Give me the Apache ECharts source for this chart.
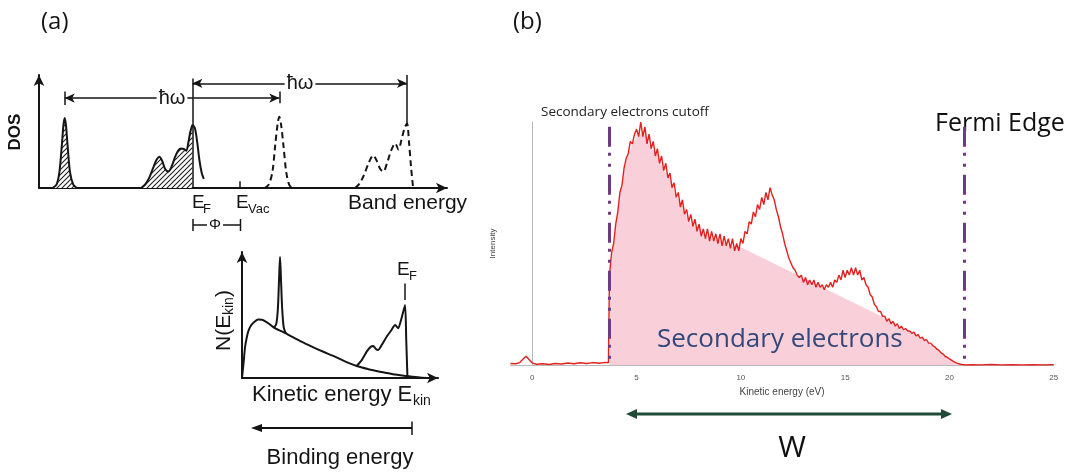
<!DOCTYPE html>
<html>
<head>
<meta charset="utf-8">
<script src="https://cdn.jsdelivr.net/npm/echarts@6/dist/echarts.min.js"></script>
<style>
  html, body { margin: 0; background: #fff; }
  #main { width: 1076px; height: 473px; }
</style>
</head>
<body>
<div id="main"></div>
<script>
// ---------- panel (a), top: DOS vs band energy (arbitrary units 0..100) ----------
const coreLevel = [[3.3,0],[4.3,3],[5.0,14],[5.6,38],[6.0,56],[6.3,62],[6.6,56],[7.0,38],[7.6,14],[8.4,3],[9.3,0]];
const valenceOccupied = [[25.0,0],[26.0,3],[27.0,9],[28.0,18],[28.8,25],[29.5,27.7],[30.2,24],[30.9,17],[31.7,14.5],
  [32.5,19],[33.4,28],[34.2,33.5],[34.8,35],[35.5,34.5],[36.1,33],[36.6,40],[37.1,50],[37.6,56]];
const valenceTail = [[37.6,56],[38.2,53],[38.8,40],[39.3,25],[39.9,13],[40.4,8]];
const coreExcited = [[55.3,0],[56.3,3],[57.2,14],[57.9,38],[58.5,57],[58.9,63],[59.3,57],[59.9,38],[60.6,14],[61.3,3],[62.0,0]];
const valenceExcited = [[77.5,0],[78.6,4],[79.7,12],[80.8,22],[81.9,29],[82.8,24],[83.6,17],[84.4,14.5],[85.3,22],
  [86.3,33],[87.3,39.5],[88.1,34],[88.8,42],[89.6,53],[90.2,57],[90.7,40],[91.2,18],[91.7,0]];
const E_F = 37.6, E_VAC = 49.3, E_TOP = 90.2, E_CORE = 6.3, E_CORE_X = 58.9;

// ---------- panel (a), bottom: N(E_kin) (arbitrary units 0..100) ----------
const secondaryBg = [[0,0],[0.8,12],[1.6,25],[2.4,32],[3.2,37],[4.5,41.5],[5.8,43.8],[7.1,45.6],[8.4,46.4],[10.2,46.2],
  [11.9,45],[13.6,43.3],[15.3,41.2],[17.5,39],[20,37.2],[22.4,35.4],[24.5,33.6],[30,29],[36.4,24.3],[41.5,20.8],
  [46.6,17.5],[52.5,13.2],[58.5,9.5],[64.5,7],[70.4,5],[77,3],[84,1.6],[90.8,0.4],[96,0]];
const corePeakKin = [[16.5,40.4],[17.5,43],[18.3,55],[18.9,78],[19.4,96],[19.9,78],[20.5,55],[21.3,40],[22.4,35.4]];
const valenceKin = [[58.5,9.5],[61,14],[63.6,20.9],[65.5,24.5],[67,25.4],[68.3,23],[69.5,22.2],[71.6,27],[73.8,32.8],
  [76,37.5],[78.1,42],[79.7,39.4],[81.5,48],[83.2,57.9],[83.8,30],[84.4,1]];
const E_F_KIN = 83.2;

// ---------- panel (b): measured spectrum, kinetic energy (eV) vs intensity ----------
const energyTicks = [0, 5, 10, 15, 20, 25];
const cutoffE = 3.69, fermiE = 20.69;
const spectrum = [
  [-1.05,0.6],[-0.8,0.5],[-0.6,1.0],[-0.45,2.4],[-0.3,3.6],[-0.15,2.2],[0,0.8],[0.2,0.3],[0.5,0.5],[0.8,0.2],
  [1.1,0.6],[1.4,0.4],[1.7,0.8],[2.0,0.5],[2.3,0.9],[2.6,0.6],[2.9,1.0],[3.2,0.7],[3.5,1.1],[3.65,0.9],
  [3.7,37],[3.8,46],[3.9,50],[4.0,58],[4.1,63],[4.2,71],[4.3,74],[4.4,81],[4.5,85],[4.6,87],[4.7,92],[4.8,91],
  [4.9,95],[5.0,97],[5.1,94],[5.2,100],[5.3,94],[5.4,98],[5.5,91],[5.6,95],[5.7,89],[5.8,92],[5.9,86],[6.0,89],
  [6.1,83],[6.2,86],[6.3,80],[6.4,83],[6.5,77],[6.6,79],[6.7,73],[6.8,75],[6.9,69],[7.0,71],[7.1,65],[7.2,68],
  [7.3,62],[7.4,64],[7.5,59],[7.6,62],[7.7,57],[7.8,60],[7.9,55],[8.0,58],[8.1,53],[8.2,56],[8.3,52],[8.4,56],
  [8.5,51],[8.6,55],[8.7,51],[8.8,54],[8.9,50],[9.0,54],[9.1,49],[9.2,53],[9.3,49],[9.4,52],[9.5,48],[9.6,52],
  [9.7,47],[9.8,50],[9.9,47],[10.0,52],[10.1,50],[10.2,55],[10.3,54],[10.4,59],[10.5,58],[10.6,63],[10.7,61],
  [10.8,66],[10.9,64],[11.0,69],[11.1,66],[11.2,71],[11.3,68],[11.4,73],[11.5,70],[11.6,68],[11.7,64],[11.8,61],
  [11.9,57],[12.0,54],[12.1,50],[12.2,47],[12.3,44],[12.4,42],[12.5,40],[12.6,39],[12.7,37],[12.8,36],[12.9,37],
  [13.0,34],[13.1,36],[13.2,33],[13.3,35],[13.4,33],[13.5,35],[13.6,32],[13.7,34],[13.8,32],[13.9,33],[14.0,31],
  [14.1,33],[14.2,32],[14.3,34],[14.4,32],[14.5,35],[14.6,34],[14.7,37],[14.8,35],[14.9,39],[15.0,36],[15.1,39],
  [15.2,37],[15.3,40],[15.4,37],[15.5,40],[15.6,37],[15.7,39],[15.8,35],[15.9,36],[16.0,33],[16.1,32],[16.2,29],
  [16.3,28],[16.4,25],[16.5,24],[16.6,22],[16.7,22],[16.8,20],[16.9,20],[17.0,18],[17.1,19],[17.2,17],[17.3,18],
  [17.4,16],[17.5,17],[17.6,15],[17.7,16],[17.8,14.5],[17.9,15],[18.0,14],[18.1,14],[18.2,13],[18.3,13.5],
  [18.4,12],[18.5,12.5],[18.6,11],[18.7,11.5],[18.8,10],[18.9,10.5],[19.0,9],[19.1,9],[19.2,8],[19.3,7.5],
  [19.4,6.5],[19.5,6],[19.6,5],[19.7,4.5],[19.8,3.5],[19.9,3.2],[20.0,2.5],[20.1,2],[20.2,1.4],[20.3,1],
  [20.4,0.7],[20.5,0.4],[20.6,0.2],[20.7,0.1],[20.8,0],[21.0,0.1],[21.5,0],[22,0.2],[22.5,0],[23,0.1],
  [23.5,0],[24,0.1],[24.5,0],[25,0.1]
];
// upper edge of the shaded secondary-electron background
const secondaryEdge = [[3.7,0],[3.7,37],[3.9,50],[4.2,70],[4.5,84],[4.8,91],[5.1,95],[5.4,95],[5.7,89],[6.0,87],
  [6.3,80],[6.6,77],[6.9,69],[7.2,66],[7.5,59],[7.8,57],[8.2,54],[8.6,52],[9.0,51],[9.5,49],[10.0,48.5],
  [16.8,19.8],[17.2,17.5],[17.6,15.5],[18.0,14],[18.5,12],[19.0,9],[19.5,6],[20.0,2.5],[20.4,0.7],[20.8,0]];

const ink = '#151515';
const sansA = '"Liberation Sans", Arial, sans-serif';
const sansB = '"Open Sans", "Noto Sans", sans-serif';

function hatchPattern() {
    const c = document.createElement('canvas');
    c.width = 5; c.height = 5;
    const g = c.getContext('2d');
    g.fillStyle = '#fff';
    g.fillRect(0, 0, 5, 5);
    g.strokeStyle = '#222';
    g.lineWidth = 1.1;
    g.beginPath();
    g.moveTo(0, 5); g.lineTo(5, 0);
    g.moveTo(-1, 1); g.lineTo(1, -1);
    g.moveTo(4, 6); g.lineTo(6, 4);
    g.stroke();
    return c;
}
const hatch = { image: hatchPattern(), repeat: 'repeat' };

function seg(a, b, extra) {
    return [Object.assign({ coord: a }, extra && extra.start), Object.assign({ coord: b }, extra && extra.end)];
}
const arrows = { start: { symbol: 'arrow' }, end: { symbol: 'arrow' } };

function schematicAxis(grid) {
    return {
        gridIndex: grid, type: 'value', min: 0, max: 100,
        axisLine: { show: true, onZero: false, symbol: ['none', 'arrow'], symbolSize: [8, 11],
            lineStyle: { color: ink, width: 2 } },
        axisTick: { show: false }, axisLabel: { show: false }, splitLine: { show: false }
    };
}
function inkLine(data, grid, extra) {
    return Object.assign({
        type: 'line', xAxisIndex: grid, yAxisIndex: grid, data: data, symbol: 'none',
        smooth: 0.3, lineStyle: { color: ink, width: 2 }
    }, extra);
}

function text(x, y, str, font, extra) {
    return Object.assign({
        type: 'text', x: x, y: y, z: 100,
        style: Object.assign({ text: str, font: font, fill: ink, align: 'left', verticalAlign: 'middle' },
            extra && extra.style)
    }, extra && extra.el);
}
function hline(x1, x2, y, w, color) {
    return { type: 'line', z: 100, shape: { x1: x1, y1: y, x2: x2, y2: y }, style: { stroke: color || ink, lineWidth: w || 1.5 } };
}
function vline(x, y1, y2, w, color) {
    return { type: 'line', z: 100, shape: { x1: x, y1: y1, x2: x, y2: y2 }, style: { stroke: color || ink, lineWidth: w || 1.5 } };
}
function tri(tipX, y, dir, len, half, color) {
    return { type: 'polygon', z: 100,
        shape: { points: [[tipX, y], [tipX - dir * len, y - half], [tipX - dir * len, y + half]] },
        style: { fill: color || ink } };
}

const chart = echarts.init(document.getElementById('main'));

const option = {
    animation: false,
    backgroundColor: '#fff',
    grid: [
        { left: 39, top: 75, width: 408, height: 113, outerBoundsMode: 'none' },
        { left: 242, top: 252, width: 196, height: 126, outerBoundsMode: 'none' },
        { left: 510.4, top: 122, width: 543.3, height: 243, outerBoundsMode: 'none' }
    ],
    xAxis: [
        schematicAxis(0),
        schematicAxis(1),
        {
            gridIndex: 2, type: 'value', min: -1.05, max: 25,
            axisLine: { show: true, lineStyle: { color: '#b8b8b8', width: 1 } },
            axisTick: { show: false }, splitLine: { show: false },
            axisLabel: { customValues: energyTicks, fontSize: 8, color: '#555', margin: 9, fontFamily: sansA },
            name: 'Kinetic energy (eV)', nameLocation: 'middle', nameGap: 21,
            nameTextStyle: { fontSize: 10, color: '#444', fontFamily: sansA }
        }
    ],
    yAxis: [
        schematicAxis(0),
        schematicAxis(1),
        {
            gridIndex: 2, type: 'value', min: 0, max: 100,
            axisLine: { show: true, lineStyle: { color: '#b8b8b8', width: 1 } },
            axisTick: { show: false }, axisLabel: { show: false }, splitLine: { show: false },
            name: 'Intensity', nameLocation: 'middle', nameGap: 14,
            nameTextStyle: { fontSize: 8, color: '#444', fontFamily: sansA }
        }
    ],
    series: [
        // (a) top
        inkLine(coreLevel, 0, {
            areaStyle: { color: hatch, opacity: 1 },
            markLine: {
                silent: true, animation: false, symbol: ['none', 'none'], symbolSize: [7, 10],
                label: { show: false }, lineStyle: { color: ink, width: 1.5, type: 'solid' },
                data: [
                    seg([E_F, 0], [E_F, 97], null),
                    seg([E_TOP, 57], [E_TOP, 100], null),
                    seg([E_F, 92.6], [E_TOP, 92.6], arrows),
                    seg([E_CORE, 79.6], [E_CORE_X, 79.6], arrows),
                    seg([E_CORE, 73.5], [E_CORE, 85.5], null),
                    seg([E_CORE_X, 75], [E_CORE_X, 85.5], null),
                    seg([E_VAC, 0], [E_VAC, 6], null)
                ]
            }
        }),
        inkLine(valenceOccupied, 0, { areaStyle: { color: hatch, opacity: 1 } }),
        inkLine(valenceTail, 0),
        inkLine(coreExcited, 0, { lineStyle: { color: ink, width: 2, type: [6, 4] } }),
        inkLine(valenceExcited, 0, { lineStyle: { color: ink, width: 2, type: [6, 4] } }),
        // (a) bottom
        inkLine(secondaryBg, 1, {
            markLine: {
                silent: true, animation: false, symbol: ['none', 'none'], label: { show: false },
                lineStyle: { color: ink, width: 1.5, type: 'solid' },
                data: [seg([E_F_KIN, 62], [E_F_KIN, 75], null)]
            }
        }),
        inkLine(corePeakKin, 1),
        inkLine(valenceKin, 1, { smooth: 0.2 }),
        // (b)
        {
            type: 'line', xAxisIndex: 2, yAxisIndex: 2, data: secondaryEdge, symbol: 'none',
            lineStyle: { width: 0 }, areaStyle: { color: '#f9cfda', opacity: 1 }, z: 1
        },
        {
            type: 'line', xAxisIndex: 2, yAxisIndex: 2, data: spectrum, symbol: 'none',
            lineStyle: { color: '#e2221f', width: 1.4 }, z: 3,
            markLine: {
                silent: true, animation: false, symbol: ['none', 'none'], label: { show: false },
                lineStyle: { color: '#6f3a80', width: 3, type: [20, 6, 3, 8, 3, 8] },
                data: [seg([cutoffE, 98], [cutoffE, 0], null), seg([fermiE, 98], [fermiE, 0], null)]
            }
        }
    ],
    graphic: [
        text(41, 22, '(a)', '24px ' + sansB),
        text(513, 22, '(b)', '24px ' + sansB),
        // (a) top labels
        text(15, 132, 'DOS', 'bold 17px ' + sansA, { el: { rotation: Math.PI / 2 }, style: { align: 'center' } }),
        text(348, 203, 'Band energy', '21px ' + sansA),
        text(192, 203, 'E', '19px ' + sansA),
        text(203, 209, 'F', '13px ' + sansA),
        text(236, 203, 'E', '19px ' + sansA),
        text(248, 209, 'Vac', '13px ' + sansA),
        text(300, 83, 'ħω', '20px ' + sansA, { style: { align: 'center', backgroundColor: '#fff', padding: [0, 2] } }),
        text(172, 98, 'ħω', '20px ' + sansA, { style: { align: 'center', backgroundColor: '#fff', padding: [0, 2] } }),
        hline(193, 240.5, 225, 1.5),
        vline(193, 219, 231, 1.5),
        vline(240.5, 219, 231, 1.5),
        text(215, 225, 'Φ', '15px ' + sansA, { style: { align: 'center', backgroundColor: '#fff', padding: [0, 2] } }),
        // (a) bottom labels
        {
            type: 'group', x: 224, y: 351, rotation: Math.PI / 2, z: 100,
            children: [
                text(0, 0, 'N(E', '21px ' + sansA),
                text(36, 5, 'kin', '14px ' + sansA),
                text(54, 0, ')', '21px ' + sansA)
            ]
        },
        text(252, 395, 'Kinetic energy E', '22px ' + sansA),
        text(413, 401, 'kin', '14px ' + sansA),
        text(397, 270, 'E', '19px ' + sansA),
        text(409, 276, 'F', '13px ' + sansA),
        hline(258, 412, 428, 2),
        tri(251, 428, -1, 11, 4),
        vline(412, 421.5, 435, 1.5),
        text(340, 458, 'Binding energy', '22px ' + sansA, { style: { align: 'center' } }),
        // (b) labels
        text(541, 112, 'Secondary electrons cutoff', '13.5px ' + sansB, { style: { fill: '#222' } }),
        text(935, 124, 'Fermi Edge', '25px ' + sansB, { el: { z: 0 }, style: { fill: '#111' } }),
        text(657, 340, 'Secondary electrons', '26px ' + sansB, { style: { fill: '#33497c' } }),
        hline(634, 944, 414, 3, '#1f4a38'),
        tri(626, 414, -1, 11, 5, '#1f4a38'),
        tri(952, 414, 1, 11, 5, '#1f4a38'),
        text(792, 448, 'W', '30px ' + sansB, { style: { align: 'center', fill: '#111' } })
    ]
};

chart.setOption(option);
</script>
</body>
</html>
